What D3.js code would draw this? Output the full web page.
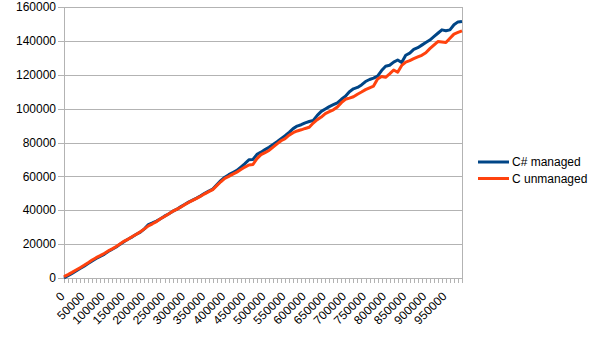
<!DOCTYPE html>
<html>
<head>
<meta charset="utf-8">
<script src="https://cdn.jsdelivr.net/npm/d3@7"></script>
<style>
  body { margin: 0; background: #fff; }
  text { font-family: "Liberation Sans", Arial, sans-serif; font-size: 12px; fill: #000; }
</style>
</head>
<body>
<svg id="chart" width="605" height="340"></svg>
<script>
// categories: 0, 10000, ... 990000
var categories = d3.range(0, 1000000, 10000)

var seriesNames = ["C# managed", "C unmanaged"]

var managed = [
    0, 1300, 2700, 4100, 5600, 7000, 8500, 10000, 11500, 12800,
    14000, 15600, 17000, 18300, 20000, 21500, 23000, 24300, 25800, 27100,
    29000, 31500, 32500, 33600, 35000, 36500, 37800, 39300, 40500, 42000,
    43400, 44800, 46000, 47200, 48500, 50000, 51300, 52500, 55000, 57500,
    59500, 61000, 62300, 63500, 65500, 67500, 69800, 70000, 73000, 74300,
    75800, 77200, 78800, 80500, 82300, 84000, 86000, 88200, 89700, 90500,
    91600, 92400, 93000, 96000, 98400, 99800, 101200, 102300, 103400, 105500,
    107300, 110000, 111700, 112500, 114000, 116000, 117200, 118000, 119200, 122500,
    125000, 125600, 127500, 128700, 127200, 131500, 132800, 135000, 136000, 137500,
    139000, 140500, 142500, 144500, 146500, 146000, 146500, 149500, 151200, 151500
]

var unmanaged = [
    800, 2000, 3300, 4700, 6100, 7500, 9000, 10600, 12000, 13200,
    14500, 16000, 17200, 18600, 20200, 21800, 23000, 24500, 25800, 27300,
    29000, 30800, 32000, 33300, 35000, 36300, 37800, 39300, 40500, 41800,
    43300, 44600, 45800, 47000, 48300, 49700, 51000, 52200, 54500, 56800,
    58800, 60000, 61300, 62500, 64000, 65500, 66700, 67000, 70500, 72800,
    74000, 75300, 77300, 79200, 81000, 82300, 84300, 85800, 86800, 87500,
    88300, 89000, 91500, 93500, 95000, 97000, 98200, 99300, 101000, 103500,
    105500, 106200, 107000, 108500, 109800, 111200, 112300, 113300, 117500, 119000,
    118500, 120500, 122800, 121500, 125500, 127500, 128300, 129500, 130500, 131500,
    133000, 135400, 137500, 139600, 139300, 139000, 141500, 144000, 145000, 145900
]

var yTicks = [0, 20000, 40000, 60000, 80000, 100000, 120000, 140000, 160000]

var colors = ["#004586", "#ff420e"]

var plotLeft = 64, plotRight = 462, plotTop = 7, plotBottom = 278

var svg = d3.select("#chart")

var x = d3.scalePoint()
          .domain(categories)
          .range([plotLeft, plotRight])

var y = d3.scaleLinear()
          .domain([0, 160000])
          .range([plotBottom, plotTop])

// grid
svg.append("g")
   .selectAll("line")
   .data(yTicks)
 .enter().append("line")
   .attr("x1", plotLeft - 6)
   .attr("x2", plotRight)
   .attr("y1", function(d) { return Math.round(y(d)) + 0.5 })
   .attr("y2", function(d) { return Math.round(y(d)) + 0.5 })
   .attr("stroke", "#b3b3b3")

// y labels
svg.append("g")
   .selectAll("text")
   .data(yTicks)
 .enter().append("text")
   .attr("x", plotLeft - 8)
   .attr("y", function(d) { return y(d) })
   .attr("dy", "0.35em")
   .attr("text-anchor", "end")
   .text(function(d) { return d })

// axis lines
svg.append("line")
   .attr("x1", plotLeft + 0.5).attr("x2", plotLeft + 0.5)
   .attr("y1", plotTop).attr("y2", plotBottom + 5)
   .attr("stroke", "#b3b3b3")
svg.append("line")
   .attr("x1", plotRight + 0.5).attr("x2", plotRight + 0.5)
   .attr("y1", plotTop).attr("y2", plotBottom + 5)
   .attr("stroke", "#b3b3b3")

// x ticks
svg.append("g")
   .selectAll("line")
   .data(categories)
 .enter().append("line")
   .attr("x1", function(d) { return Math.round(x(d)) + 0.5 })
   .attr("x2", function(d) { return Math.round(x(d)) + 0.5 })
   .attr("y1", plotBottom)
   .attr("y2", plotBottom + 5)
   .attr("stroke", "#b3b3b3")

// x labels every 50000
svg.append("g")
   .selectAll("text")
   .data(categories.filter(function(d) { return d % 50000 == 0 }))
 .enter().append("text")
   .attr("transform", function(d) {
       return "translate(" + (x(d) - 1.5) + "," + (plotBottom + 16) + ") rotate(-45)"
   })
   .attr("text-anchor", "end")
   .attr("dy", "0.35em")
   .text(function(d) { return d })

// lines
var line = d3.line()
             .x(function(d, i) { return x(categories[i]) })
             .y(function(d) { return y(d) })

var allSeries = [managed, unmanaged]

svg.append("g")
   .selectAll("path")
   .data(allSeries)
 .enter().append("path")
   .attr("d", line)
   .attr("fill", "none")
   .attr("stroke", function(d, i) { return colors[i] })
   .attr("stroke-width", 3)
   .attr("stroke-linejoin", "round")

// legend
var legend = svg.append("g")
                .selectAll("g")
                .data(seriesNames)
              .enter().append("g")
                .attr("transform", function(d, i) {
                    return "translate(478," + (162 + i * 16.5) + ")"
                })

legend.append("line")
      .attr("x1", 0).attr("x2", 31)
      .attr("stroke", function(d, i) { return colors[i] })
      .attr("stroke-width", 3)

legend.append("text")
      .attr("x", 34)
      .attr("dy", "0.35em")
      .text(function(d) { return d })
</script>
</body>
</html>
